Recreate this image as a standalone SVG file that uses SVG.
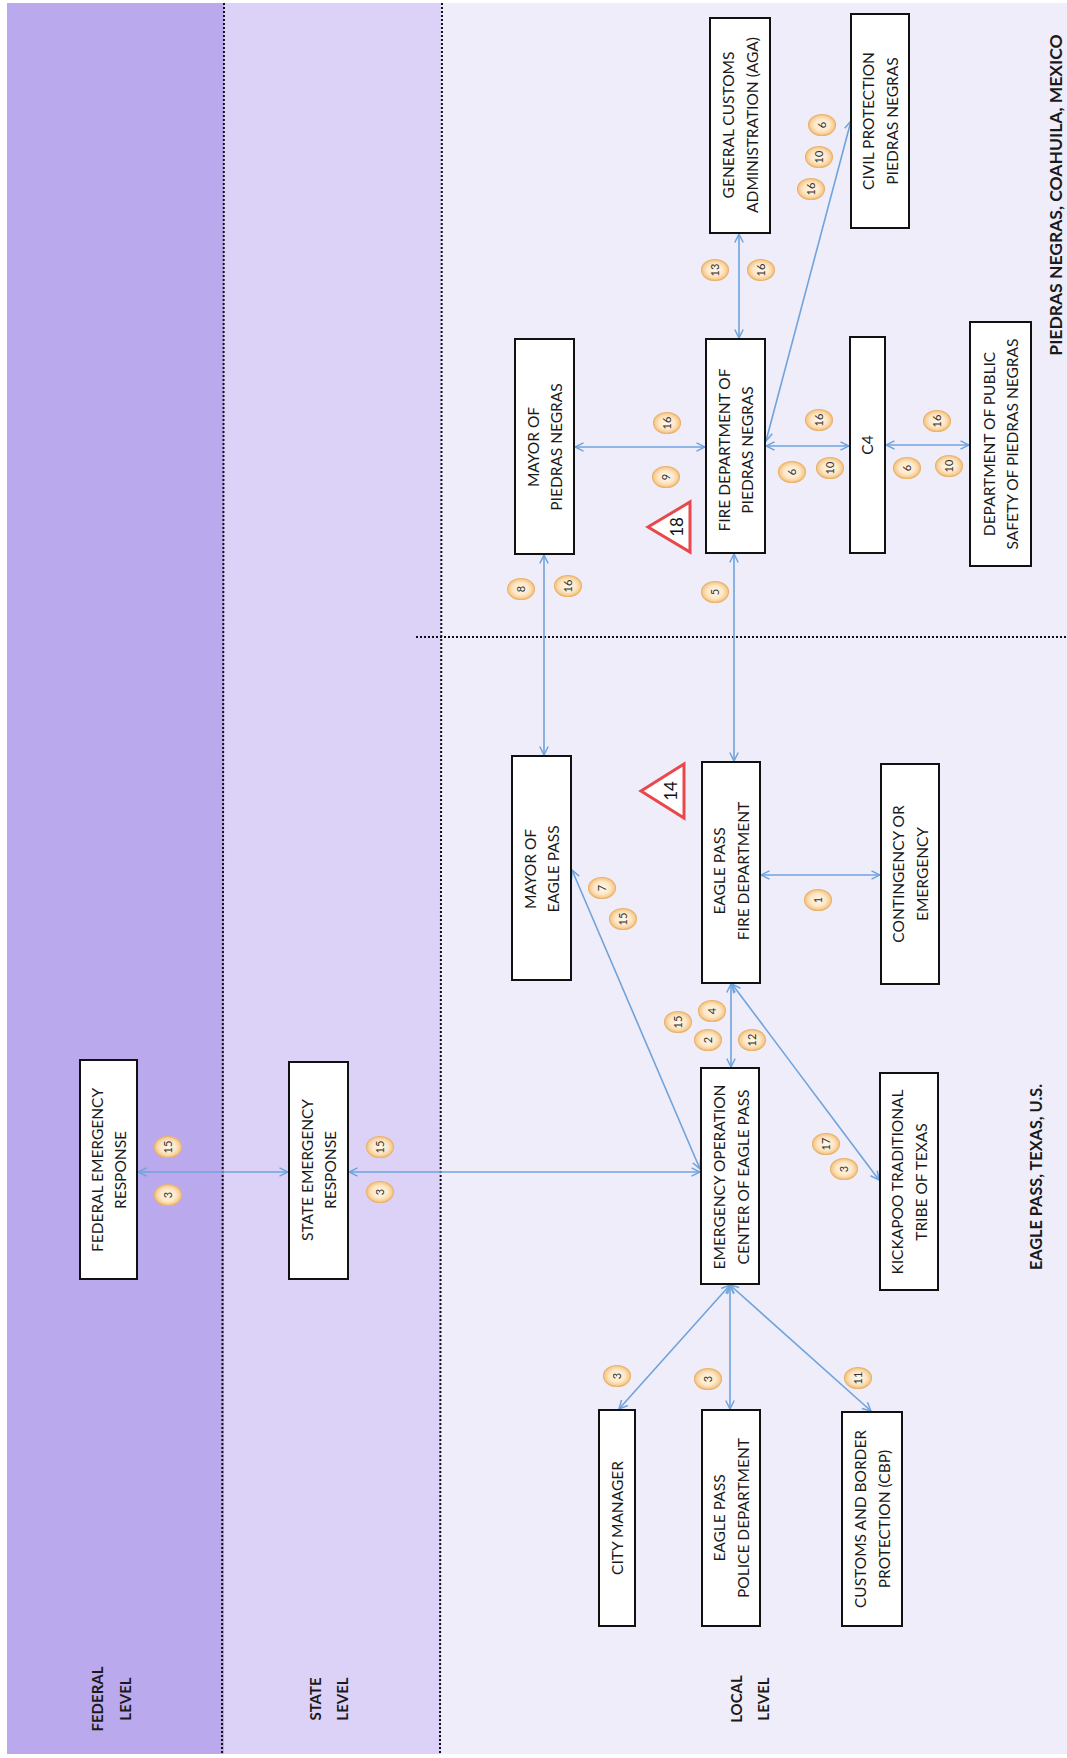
<svg xmlns="http://www.w3.org/2000/svg" width="1067" height="1758" viewBox="0 0 1067 1758">
<defs>
<style>
.box{fill:#ffffff;stroke:#111111;stroke-width:2}
.nt{font-family:Lato,"Liberation Sans",sans-serif;font-size:15.5px;fill:#1a1a1a;text-anchor:middle}
.lv{font-family:Lato,"Liberation Sans",sans-serif;font-size:15px;font-weight:bold;fill:#1a1a1a;text-anchor:middle}
.rg{font-family:Lato,"Liberation Sans",sans-serif;font-weight:bold;fill:#1a1a1a;text-anchor:middle}
.cn{fill:none;stroke:#6fa3dc;stroke-width:1.6;marker-start:url(#arr);marker-end:url(#arr)}
.dot{fill:none;stroke:#111111;stroke-width:2;stroke-dasharray:2 2}
.bd ellipse{fill:url(#bgrad);stroke:#e9b46e;stroke-width:1.2}
.bd text{font-family:Lato,"Liberation Sans",sans-serif;font-size:11px;fill:#333333;text-anchor:middle}
.tri{fill:#ffffff;stroke:#e8474c;stroke-width:3;stroke-linejoin:miter}
.tt{font-family:Lato,"Liberation Sans",sans-serif;font-size:17px;fill:#111111;text-anchor:middle}
</style>
<radialGradient id="bgrad" cx="0.5" cy="0.5" r="0.5">
<stop offset="0" stop-color="#fff8ec"/>
<stop offset="0.6" stop-color="#fde7c6"/>
<stop offset="1" stop-color="#f5c27f"/>
</radialGradient>
<marker id="arr" viewBox="0 0 10 10" refX="9.5" refY="5" markerWidth="10" markerHeight="10" markerUnits="userSpaceOnUse" orient="auto-start-reverse">
<path d="M1,0.8 L9.5,5 L1,9.2" fill="none" stroke="#6fa3dc" stroke-width="1.5"/>
</marker>
</defs>

<g id="background">
<rect x="0" y="0" width="1067" height="1758" fill="#ffffff"/>
<rect x="7" y="3" width="217" height="1751" fill="#bba9ee"/>
<rect x="224" y="3" width="217" height="1751" fill="#dcd2f8"/>
<rect x="441" y="3" width="626" height="1751" fill="#efedf9"/>
<line class="dot" x1="224" y1="3" x2="222" y2="1754"/>
<line class="dot" x1="442" y1="3" x2="440" y2="1754"/>
<line class="dot" x1="416" y1="637" x2="1067" y2="637"/>
</g>

<g id="level-labels">
<text class="lv" transform="translate(98,1699) rotate(-90)" dy="5.4">FEDERAL</text>
<text class="lv" transform="translate(126,1699) rotate(-90)" dy="5.4">LEVEL</text>
<text class="lv" transform="translate(316,1699) rotate(-90)" dy="5.4">STATE</text>
<text class="lv" transform="translate(343,1699) rotate(-90)" dy="5.4">LEVEL</text>
<text class="lv" transform="translate(737,1699) rotate(-90)" dy="5.4">LOCAL</text>
<text class="lv" transform="translate(764,1699) rotate(-90)" dy="5.4">LEVEL</text>
<text class="rg" font-size="16.3" transform="translate(1036,1177) rotate(-90)" dy="5.8">EAGLE PASS, TEXAS, U.S.</text>
<text class="rg" font-size="17.5" transform="translate(1056,195) rotate(-90)" dy="6.2">PIEDRAS NEGRAS, COAHUILA, MEXICO</text>
</g>

<g id="connectors">
<line class="cn" x1="138" y1="1172" x2="288" y2="1172"/>
<line class="cn" x1="349" y1="1172" x2="700" y2="1172"/>
<line class="cn" x1="572" y1="870" x2="700" y2="1169"/>
<line class="cn" x1="731" y1="984" x2="731" y2="1067"/>
<line class="cn" x1="732" y1="984" x2="879" y2="1180"/>
<line class="cn" x1="761" y1="875" x2="880" y2="875"/>
<line class="cn" x1="730" y1="1285" x2="619" y2="1409"/>
<line class="cn" x1="730" y1="1285" x2="730" y2="1409"/>
<line class="cn" x1="730" y1="1285" x2="871" y2="1411"/>
<line class="cn" x1="544" y1="755" x2="544" y2="555"/>
<line class="cn" x1="734" y1="761" x2="734" y2="554"/>
<line class="cn" x1="575" y1="447" x2="705" y2="447"/>
<line class="cn" x1="766" y1="446" x2="849" y2="446"/>
<line class="cn" x1="886" y1="445" x2="969" y2="445"/>
<line class="cn" x1="739" y1="338" x2="739" y2="234"/>
<line class="cn" x1="766" y1="441" x2="851" y2="121"/>
</g>

<g id="n-federal"><rect class="box" x="80" y="1060" width="57" height="219"/>
<text class="nt" transform="translate(108.5,1170) rotate(-90)"><tspan x="0" y="-6">FEDERAL EMERGENCY</tspan><tspan x="0" y="17.5">RESPONSE</tspan></text></g>
<g id="n-state"><rect class="box" x="289" y="1062" width="59" height="217"/>
<text class="nt" transform="translate(318.5,1170) rotate(-90)"><tspan x="0" y="-6">STATE EMERGENCY</tspan><tspan x="0" y="17.5">RESPONSE</tspan></text></g>
<g id="n-eoc"><rect class="box" x="701" y="1068" width="58" height="216"/>
<text class="nt" transform="translate(731,1177) rotate(-90)"><tspan x="0" y="-6">EMERGENCY OPERATION</tspan><tspan x="0" y="17.5">CENTER OF EAGLE PASS</tspan></text></g>
<g id="n-kickapoo"><rect class="box" x="880" y="1073" width="58" height="217"/>
<text class="nt" transform="translate(909,1182) rotate(-90)"><tspan x="0" y="-6">KICKAPOO TRADITIONAL</tspan><tspan x="0" y="17.5">TRIBE OF TEXAS</tspan></text></g>
<g id="n-citymanager"><rect class="box" x="599" y="1410" width="36" height="216"/>
<text class="nt" transform="translate(617,1518) rotate(-90)" dy="5.5">CITY MANAGER</text></g>
<g id="n-police"><rect class="box" x="702" y="1410" width="58" height="216"/>
<text class="nt" transform="translate(731,1518) rotate(-90)"><tspan x="0" y="-6">EAGLE PASS</tspan><tspan x="0" y="17.5">POLICE DEPARTMENT</tspan></text></g>
<g id="n-cbp"><rect class="box" x="842" y="1412" width="60" height="214"/>
<text class="nt" transform="translate(872,1519) rotate(-90)"><tspan x="0" y="-6">CUSTOMS AND BORDER</tspan><tspan x="0" y="17.5">PROTECTION (CBP)</tspan></text></g>
<g id="n-mayor-ep"><rect class="box" x="512" y="756" width="59" height="224"/>
<text class="nt" transform="translate(541.5,869) rotate(-90)"><tspan x="0" y="-6">MAYOR OF</tspan><tspan x="0" y="17.5">EAGLE PASS</tspan></text></g>
<g id="n-fire-ep"><rect class="box" x="702" y="762" width="58" height="221"/>
<text class="nt" transform="translate(731,871) rotate(-90)"><tspan x="0" y="-6">EAGLE PASS</tspan><tspan x="0" y="17.5">FIRE DEPARTMENT</tspan></text></g>
<g id="n-contingency"><rect class="box" x="881" y="764" width="58" height="220"/>
<text class="nt" transform="translate(910,874) rotate(-90)"><tspan x="0" y="-6">CONTINGENCY OR</tspan><tspan x="0" y="17.5">EMERGENCY</tspan></text></g>
<g id="n-mayor-pn"><rect class="box" x="515" y="339" width="59" height="215"/>
<text class="nt" transform="translate(544.5,447) rotate(-90)"><tspan x="0" y="-6">MAYOR OF</tspan><tspan x="0" y="17.5">PIEDRAS NEGRAS</tspan></text></g>
<g id="n-fire-pn"><rect class="box" x="706" y="339" width="59" height="214"/>
<text class="nt" transform="translate(735.5,450) rotate(-90)"><tspan x="0" y="-6">FIRE DEPARTMENT OF</tspan><tspan x="0" y="17.5">PIEDRAS NEGRAS</tspan></text></g>
<g id="n-c4"><rect class="box" x="850" y="337" width="35" height="216"/>
<text class="nt" transform="translate(867.5,445) rotate(-90)" dy="5.5">C4</text></g>
<g id="n-aga"><rect class="box" x="710" y="18" width="60" height="215"/>
<text class="nt" transform="translate(740,125) rotate(-90)"><tspan x="0" y="-6">GENERAL CUSTOMS</tspan><tspan x="0" y="17.5">ADMINISTRATION (AGA)</tspan></text></g>
<g id="n-civil"><rect class="box" x="851" y="14" width="58" height="214"/>
<text class="nt" transform="translate(880,121) rotate(-90)"><tspan x="0" y="-6">CIVIL PROTECTION</tspan><tspan x="0" y="17.5">PIEDRAS NEGRAS</tspan></text></g>
<g id="n-dps"><rect class="box" x="970" y="322" width="61" height="244"/>
<text class="nt" transform="translate(1000.5,444) rotate(-90)"><tspan x="0" y="-6">DEPARTMENT OF PUBLIC</tspan><tspan x="0" y="17.5">SAFETY OF PIEDRAS NEGRAS</tspan></text></g>

<g id="warnings">
<g id="w14"><polygon class="tri" points="641,791 684,764 684,818"/>
<text class="tt" transform="translate(671,791) rotate(-90)" dy="6">14</text></g>
<g id="w18"><polygon class="tri" points="648,527 690,502 690,552"/>
<text class="tt" transform="translate(677,527) rotate(-90)" dy="6">18</text></g>
</g>

<g id="badges">
<g class="bd" transform="translate(168,1147)"><ellipse rx="13.5" ry="10.5"/><text transform="rotate(-90)" dy="3.8">15</text></g>
<g class="bd" transform="translate(168,1195)"><ellipse rx="13.5" ry="10.5"/><text transform="rotate(-90)" dy="3.8">3</text></g>
<g class="bd" transform="translate(380,1147)"><ellipse rx="13.5" ry="10.5"/><text transform="rotate(-90)" dy="3.8">15</text></g>
<g class="bd" transform="translate(380,1192)"><ellipse rx="13.5" ry="10.5"/><text transform="rotate(-90)" dy="3.8">3</text></g>
<g class="bd" transform="translate(678,1022)"><ellipse rx="13.5" ry="10.5"/><text transform="rotate(-90)" dy="3.8">15</text></g>
<g class="bd" transform="translate(712,1011)"><ellipse rx="13.5" ry="10.5"/><text transform="rotate(-90)" dy="3.8">4</text></g>
<g class="bd" transform="translate(708,1040)"><ellipse rx="13.5" ry="10.5"/><text transform="rotate(-90)" dy="3.8">2</text></g>
<g class="bd" transform="translate(752,1040)"><ellipse rx="13.5" ry="10.5"/><text transform="rotate(-90)" dy="3.8">12</text></g>
<g class="bd" transform="translate(826,1144)"><ellipse rx="13.5" ry="10.5"/><text transform="rotate(-90)" dy="3.8">17</text></g>
<g class="bd" transform="translate(844,1169)"><ellipse rx="13.5" ry="10.5"/><text transform="rotate(-90)" dy="3.8">3</text></g>
<g class="bd" transform="translate(617,1376)"><ellipse rx="13.5" ry="10.5"/><text transform="rotate(-90)" dy="3.8">3</text></g>
<g class="bd" transform="translate(708,1379)"><ellipse rx="13.5" ry="10.5"/><text transform="rotate(-90)" dy="3.8">3</text></g>
<g class="bd" transform="translate(858,1378)"><ellipse rx="13.5" ry="10.5"/><text transform="rotate(-90)" dy="3.8">11</text></g>
<g class="bd" transform="translate(602,888)"><ellipse rx="13.5" ry="10.5"/><text transform="rotate(-90)" dy="3.8">7</text></g>
<g class="bd" transform="translate(623,919)"><ellipse rx="13.5" ry="10.5"/><text transform="rotate(-90)" dy="3.8">15</text></g>
<g class="bd" transform="translate(818,900)"><ellipse rx="13.5" ry="10.5"/><text transform="rotate(-90)" dy="3.8">1</text></g>
<g class="bd" transform="translate(521,589)"><ellipse rx="13.5" ry="10.5"/><text transform="rotate(-90)" dy="3.8">8</text></g>
<g class="bd" transform="translate(568,586)"><ellipse rx="13.5" ry="10.5"/><text transform="rotate(-90)" dy="3.8">16</text></g>
<g class="bd" transform="translate(715,592)"><ellipse rx="13.5" ry="10.5"/><text transform="rotate(-90)" dy="3.8">5</text></g>
<g class="bd" transform="translate(667,423)"><ellipse rx="13.5" ry="10.5"/><text transform="rotate(-90)" dy="3.8">16</text></g>
<g class="bd" transform="translate(666,477)"><ellipse rx="13.5" ry="10.5"/><text transform="rotate(-90)" dy="3.8">9</text></g>
<g class="bd" transform="translate(819,420)"><ellipse rx="13.5" ry="10.5"/><text transform="rotate(-90)" dy="3.8">16</text></g>
<g class="bd" transform="translate(792,472)"><ellipse rx="13.5" ry="10.5"/><text transform="rotate(-90)" dy="3.8">6</text></g>
<g class="bd" transform="translate(830,468)"><ellipse rx="13.5" ry="10.5"/><text transform="rotate(-90)" dy="3.8">10</text></g>
<g class="bd" transform="translate(937,421)"><ellipse rx="13.5" ry="10.5"/><text transform="rotate(-90)" dy="3.8">16</text></g>
<g class="bd" transform="translate(907,468)"><ellipse rx="13.5" ry="10.5"/><text transform="rotate(-90)" dy="3.8">6</text></g>
<g class="bd" transform="translate(949,466)"><ellipse rx="13.5" ry="10.5"/><text transform="rotate(-90)" dy="3.8">10</text></g>
<g class="bd" transform="translate(715,270)"><ellipse rx="13.5" ry="10.5"/><text transform="rotate(-90)" dy="3.8">13</text></g>
<g class="bd" transform="translate(761,270)"><ellipse rx="13.5" ry="10.5"/><text transform="rotate(-90)" dy="3.8">16</text></g>
<g class="bd" transform="translate(811,189)"><ellipse rx="13.5" ry="10.5"/><text transform="rotate(-90)" dy="3.8">16</text></g>
<g class="bd" transform="translate(819,157)"><ellipse rx="13.5" ry="10.5"/><text transform="rotate(-90)" dy="3.8">10</text></g>
<g class="bd" transform="translate(822,125)"><ellipse rx="13.5" ry="10.5"/><text transform="rotate(-90)" dy="3.8">6</text></g>
</g>
</svg>
